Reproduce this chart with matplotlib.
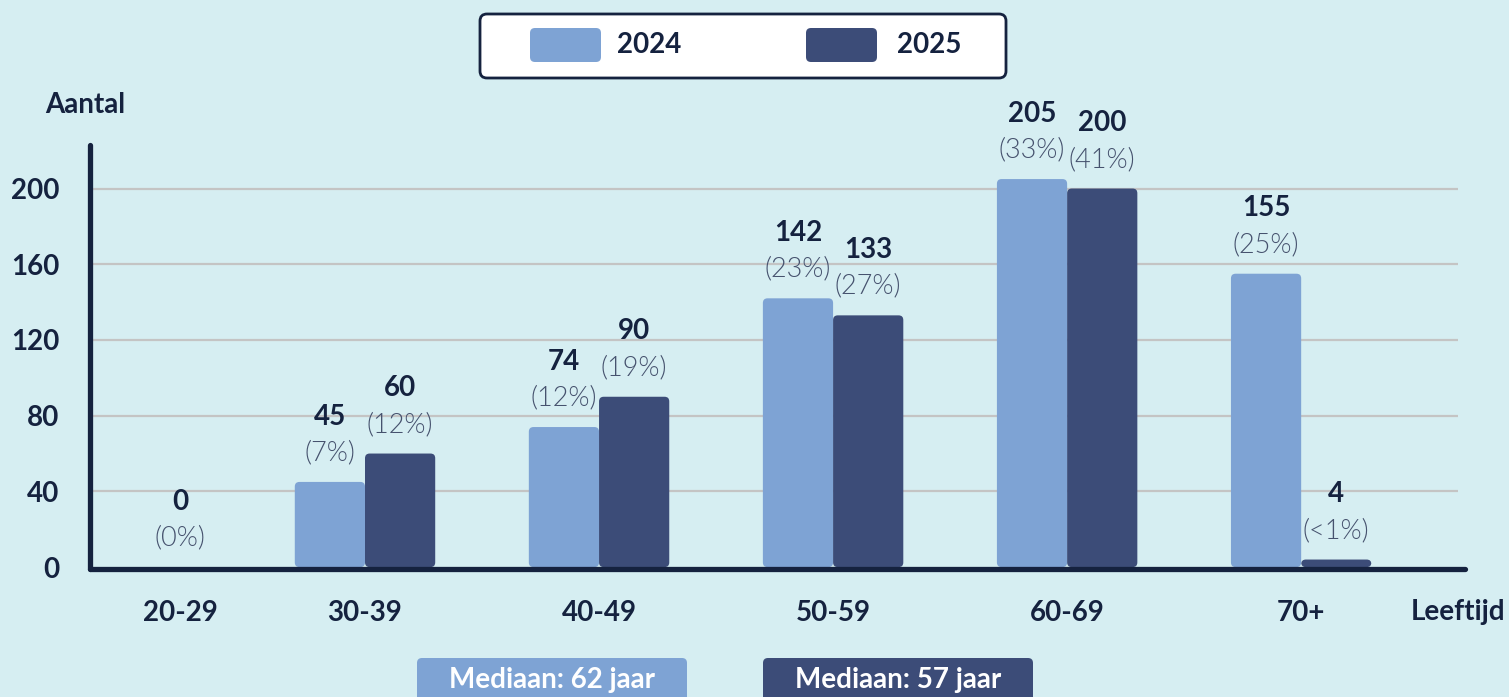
import numpy as np
import matplotlib
matplotlib.use("Agg")
import matplotlib.pyplot as plt
from matplotlib.patches import FancyBboxPatch

# data
categories = ["20-29", "30-39", "40-49", "50-59", "60-69", "70+"]
counts_2024 = [0, 45, 74, 142, 205, 155]
counts_2025 = [0, 60, 90, 133, 200, 4]
pct_2024 = ["(0%)", "(7%)", "(12%)", "(23%)", "(33%)", "(25%)"]
pct_2025 = ["", "(12%)", "(19%)", "(27%)", "(41%)", "(<1%)"]
years = ["2024", "2025"]
medians = ["Mediaan: 62 jaar", "Mediaan: 57 jaar"]
yticks = [0, 40, 80, 120, 160, 200]

BG = "#d6eef2"
LIGHT = "#7ea3d4"
DARK = "#3c4c78"
NAVY = "#15223f"
GRID = "#c4c4c4"
FONT = "Lato"
BOLD = "bold"
FS = 20

W, H = 1509, 697
fig = plt.figure(figsize=(W / 100, H / 100), dpi=100, facecolor=BG)

# pixel-space overlay for the decorations
ov = fig.add_axes([0, 0, 1, 1], zorder=0)
ov.set_xlim(0, W)
ov.set_ylim(H, 0)
ov.axis("off")
ov.patch.set_alpha(0)

# main axes
ax = fig.add_axes([90 / W, (H - 569) / H, (1465 - 90) / W, (569 - 145) / H], zorder=1)
ax.set_facecolor("none")
ax.set_xlim(-0.175, 5.70)
ax.set_ylim(-1, 223)

x = np.arange(len(categories))
bw = 0.30
# px per data unit for rounding
asp = (1 / 1.89) / (1 / 234)

for xs, vals, col in [(x - bw / 2, counts_2024, LIGHT), (x + bw / 2, counts_2025, DARK)]:
    for xi, v in zip(xs, vals):
        if v <= 0:
            continue
        p = FancyBboxPatch((xi - bw / 2, 0), bw, v,
                           boxstyle="round,pad=0,rounding_size=0.02",
                           mutation_aspect=asp, fc=col, ec="none", zorder=2)
        ax.add_patch(p)

ax.hlines(yticks[1:], -0.175, 5.67, color=GRID, lw=1.6, zorder=1)

# value labels
lbl_x = x.astype(float).copy()
lbl_x[0] = 0.21
for i in range(len(categories)):
    for xi, v, pc in [(x[i] - bw / 2, counts_2024[i], pct_2024[i]), (x[i] + bw / 2, counts_2025[i], pct_2025[i])]:
        if i == 0:
            if pc == "":
                continue
            xi = lbl_x[0]
            base = 0
        else:
            base = v
        ax.annotate(str(v), (xi, base), xytext=(0, 47), textcoords="offset points",
                    ha="center", va="center", fontsize=FS, fontweight=BOLD,
                    color=NAVY, family=FONT, zorder=3)
        ax.annotate(pc, (xi, base), xytext=(0, 21), textcoords="offset points",
                    ha="center", va="center", fontsize=FS - 0.5, fontweight=300,
                    color="#46526e", family=FONT, zorder=3)

ax.set_yticks(yticks)
ax.set_yticklabels([str(t) for t in yticks], fontsize=FS, fontweight=BOLD, color=NAVY, family=FONT)
ax.set_xticks(lbl_x)
ax.set_xticklabels(categories, fontsize=FS, fontweight=BOLD, color=NAVY, family=FONT)
ax.tick_params(axis="y", length=0, pad=22)
ax.tick_params(axis="x", length=0, pad=22)

for s in ["top", "right"]:
    ax.spines[s].set_visible(False)
for s in ["left", "bottom"]:
    ax.spines[s].set_color(NAVY)
    ax.spines[s].set_linewidth(3.8)
    ax.spines[s].set_capstyle("round")
    ax.spines[s].set_zorder(4)

# axis titles
ov.text(45, 105, "Aantal", fontsize=FS, fontweight=BOLD, color=NAVY, family=FONT, ha="left", va="center")
ov.text(1505, 612, "Leeftijd", fontsize=FS, fontweight=BOLD, color=NAVY, family=FONT, ha="right", va="center")

# legend box
ov.add_patch(FancyBboxPatch((480, 14), 526, 64, boxstyle="round,pad=0,rounding_size=7",
                            fc="white", ec=NAVY, lw=2))
for (px, tx), col, yr in zip([(530, 617), (806, 897)], [LIGHT, DARK], years):
    ov.add_patch(FancyBboxPatch((px, 28), 71, 34, boxstyle="round,pad=0,rounding_size=5",
                                fc=col, ec="none"))
    ov.text(tx, 45, yr, fontsize=FS, fontweight=BOLD, color=NAVY, family=FONT, ha="left", va="center")

# median boxes
for bx, col, txt in zip([417, 763], [LIGHT, DARK], medians):
    ov.add_patch(FancyBboxPatch((bx, 658), 270, 60, boxstyle="round,pad=0,rounding_size=5",
                                fc=col, ec="none"))
    ov.text(bx + 135, 680, txt, fontsize=FS, fontweight=BOLD, color="white", family=FONT,
            ha="center", va="center")

fig.savefig("out.png", dpi=100, facecolor=BG)
